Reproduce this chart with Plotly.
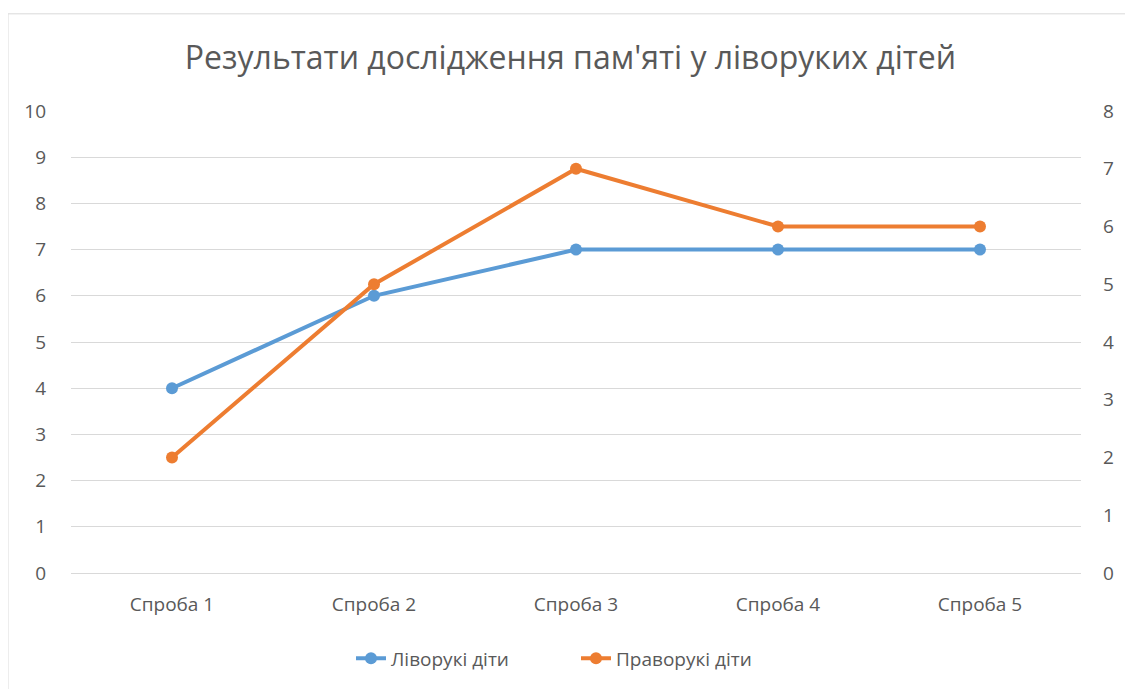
import plotly.graph_objects as go

categories = ["Спроба 1", "Спроба 2", "Спроба 3", "Спроба 4", "Спроба 5"]
left_handed = [4, 6, 7, 7, 7]
right_handed = [2, 5, 7, 6, 6]
series_names = ["Ліворукі діти", "Праворукі діти"]
title_text = "Результати дослідження пам'яті у ліворуких дітей"

font_family = "Open Sans, Liberation Sans, sans-serif"
grey = "#595959"
tick_size = 19

fig = go.Figure()
fig.add_trace(go.Scatter(
    x=categories, y=left_handed, name=series_names[0],
    mode="lines+markers",
    line=dict(color="#5B9BD5", width=4),
    marker=dict(size=12, color="#5B9BD5"),
    yaxis="y",
))
fig.add_trace(go.Scatter(
    x=categories, y=right_handed, name=series_names[1],
    mode="lines+markers",
    line=dict(color="#ED7D31", width=4),
    marker=dict(size=12, color="#ED7D31"),
    yaxis="y2",
))

# page body has an 8px margin, so the figure is offset by (8, 8)
fig.update_layout(
    width=1125, height=681,
    margin=dict(l=63, r=52, t=103, b=113),
    paper_bgcolor="white", plot_bgcolor="white",
    font=dict(family=font_family, color=grey, size=tick_size),
    title=dict(text=title_text, x=0.5, xanchor="center", y=0.927, yanchor="middle",
               font=dict(size=32, color=grey, family=font_family)),
    xaxis=dict(range=[-0.5, 4.5], showgrid=False, showline=True, linecolor="#D9D9D9",
               linewidth=1, ticks="", tickfont=dict(size=tick_size, color=grey), ticklabelstandoff=14),
    yaxis=dict(range=[0, 10], dtick=1, showgrid=True, gridcolor="#D9D9D9", gridwidth=1,
               zeroline=False, ticks="", tickfont=dict(size=tick_size, color=grey), ticklabelstandoff=24),
    yaxis2=dict(range=[0, 8], dtick=1, overlaying="y", side="right", showgrid=False,
                zeroline=False, ticks="", tickfont=dict(size=tick_size, color=grey), ticklabelstandoff=21),
    legend=dict(orientation="h", x=0.5, xanchor="center", y=-0.185, yanchor="middle",
                font=dict(size=tick_size, color=grey), entrywidth=180, entrywidthmode="pixels"),
    showlegend=True,
)

fig.add_shape(type="rect", xref="paper", yref="paper",
              x0=-0.0624, x1=1.0505, y0=-0.28, y1=1.2103,
              line=dict(color="#D9D9D9", width=1), fillcolor="rgba(0,0,0,0)", layer="below")

fig.write_html("out.html")
